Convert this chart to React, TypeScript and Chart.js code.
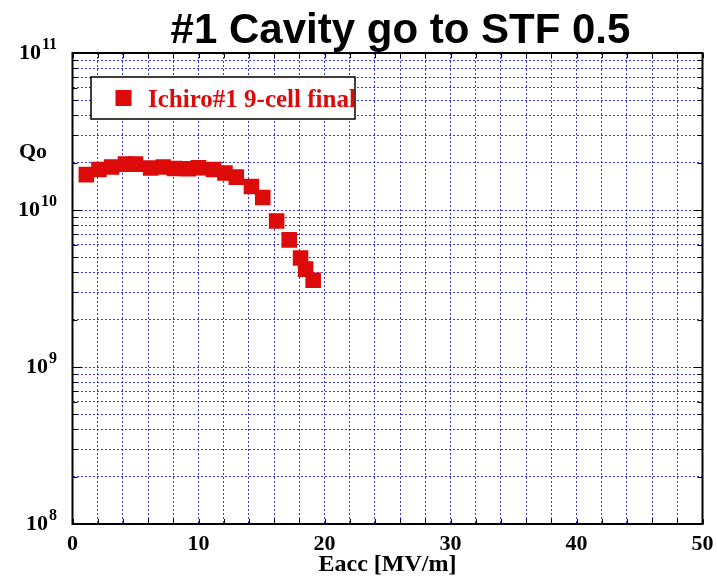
import React, { useEffect, useRef } from 'react';
import { Chart, registerables } from 'chart.js';

Chart.register(...registerables);

// ---- data ----
const seriesLabel = 'Ichiro#1 9-cell final';
const eacc = [1.1, 2.1, 3.1, 4.2, 5.0, 6.2, 7.2, 8.1, 9.2, 10.0, 11.2, 12.1, 13.0, 14.2, 15.1, 16.2, 17.2, 18.1, 18.5, 19.1];
const qo = [1.68e10, 1.81e10, 1.88e10, 1.96e10, 1.96e10, 1.85e10, 1.88e10, 1.84e10, 1.83e10, 1.86e10, 1.81e10, 1.72e10, 1.62e10, 1.41e10, 1.2e10, 8.5e9, 6.45e9, 4.95e9, 4.2e9, 3.57e9];
const xTickLabels = ['0', '10', '20', '30', '40', '50'];
const yDecadeExponents = [8, 9, 10, 11];
const titleText = '#1 Cavity go to STF 0.5';
const xTitle = 'Eacc [MV/m]';
const yTitle = 'Qo';

const RED = '#dd0a0a';
const GRID = 'rgba(20,20,230,0.85)';
const SERIF = '"Liberation Serif", "Times New Roman", serif';
const SANS = '"Liberation Sans", Arial, sans-serif';

function yTickValues(): { value: number; major: boolean }[] {
  const out: { value: number; major: boolean }[] = [];
  for (let i = 0; i < yDecadeExponents.length - 1; i++) {
    const base = Math.pow(10, yDecadeExponents[i]);
    for (let m = 1; m <= 9; m++) out.push({ value: m * base, major: m === 1 });
  }
  out.push({ value: Math.pow(10, yDecadeExponents[yDecadeExponents.length - 1]), major: true });
  return out;
}

const decor = {
  id: 'decor',
  afterDatasetsDraw(chart: any) {
    const { ctx, chartArea: a, scales } = chart;
    const xs = scales.x;
    const ys = scales.y;
    ctx.save();

    // inward tick marks
    ctx.strokeStyle = '#000';
    ctx.lineWidth = 1;
    ctx.beginPath();
    xs.ticks.forEach((t: any) => {
      const px = Math.round(xs.getPixelForValue(t.value)) + 0.5;
      ctx.moveTo(px, a.bottom);
      ctx.lineTo(px, a.bottom - 5);
      ctx.moveTo(px, a.top);
      ctx.lineTo(px, a.top + 5);
    });
    ys.ticks.forEach((t: any) => {
      const py = Math.round(ys.getPixelForValue(t.value)) + 0.5;
      const len = t.major ? 9 : 5;
      ctx.moveTo(a.left, py);
      ctx.lineTo(a.left + len, py);
      ctx.moveTo(a.right, py);
      ctx.lineTo(a.right - len, py);
    });
    ctx.stroke();

    // frame
    ctx.lineWidth = 2;
    ctx.strokeRect(a.left, a.top, a.right - a.left, a.bottom - a.top);

    // legend box
    const lx = a.left + 18.5;
    const ly = a.top + 24;
    ctx.fillStyle = '#fff';
    ctx.fillRect(lx, ly, 264, 42);
    ctx.lineWidth = 1.5;
    ctx.strokeStyle = '#000';
    ctx.strokeRect(lx, ly, 264, 42);
    const ds = chart.data.datasets[0];
    ctx.fillStyle = ds.backgroundColor;
    ctx.fillRect(lx + 24.5, ly + 13, 16, 16);
    ctx.font = `bold 25px ${SERIF}`;
    ctx.textAlign = 'left';
    ctx.textBaseline = 'alphabetic';
    ctx.fillText(ds.label, lx + 57, ly + 29.5);

    // y tick labels with superscripts
    ctx.fillStyle = '#000';
    ctx.textAlign = 'right';
    yDecadeExponents.forEach((e) => {
      const py = ys.getPixelForValue(Math.pow(10, e));
      ctx.font = `bold 16px ${SERIF}`;
      const expStr = String(e);
      const ew = ctx.measureText(expStr).width;
      ctx.fillText(expStr, 57, py - 4);
      ctx.font = `bold 22px ${SERIF}`;
      ctx.fillText('10', 57 - ew - 1, py + 5.5);
    });

    // y title (horizontal)
    ctx.textAlign = 'center';
    ctx.font = `bold 22px ${SERIF}`;
    ctx.fillText(yTitle, 33, 158);

    // chart title
    ctx.font = `bold 42px ${SANS}`;
    ctx.fillText(titleText, 400.5, 43);

    ctx.restore();
  },
};

export default function App() {
  const ref = useRef<HTMLCanvasElement | null>(null);

  useEffect(() => {
    if (!ref.current) return;
    const chart = new Chart(ref.current, {
      type: 'scatter',
      data: {
        datasets: [
          {
            label: seriesLabel,
            data: eacc.map((x, i) => ({ x, y: qo[i] })),
            backgroundColor: RED,
            borderColor: RED,
            borderWidth: 0,
            pointStyle: 'rect',
            pointRadius: 11,
            pointHoverRadius: 11,
            showLine: false,
          },
        ],
      },
      options: {
        responsive: false,
        animation: false,
        devicePixelRatio: 1,
        layout: { padding: { left: 0, right: 14.5, top: 53, bottom: 0 } },
        plugins: {
          legend: { display: false },
          tooltip: { enabled: false },
          title: { display: false },
        },
        scales: {
          x: {
            type: 'linear',
            min: 0,
            max: 50,
            ticks: {
              stepSize: 2,
              autoSkip: false,
              maxRotation: 0,
              padding: 7,
              color: '#000',
              font: { family: SERIF, size: 22, weight: 'bold' },
              callback: (v: any) => (xTickLabels.includes(String(v)) ? String(v) : ''),
            },
            grid: { color: GRID, lineWidth: 1, drawTicks: false },
            border: { display: false, dash: [2, 2] },
            title: {
              display: true,
              text: xTitle,
              color: '#000',
              font: { family: SERIF, size: 24, weight: 'bold' },
              padding: { top: 0, bottom: 2 },
            },
            afterFit: (s: any) => {
              s.height = 57;
              s.paddingLeft = 0;
              s.paddingRight = 0;
            },
          },
          y: {
            type: 'logarithmic',
            min: 1e8,
            max: 1e11,
            ticks: { display: false, autoSkip: false },
            afterBuildTicks: (s: any) => {
              s.ticks = yTickValues();
            },
            grid: { color: GRID, lineWidth: 1, drawTicks: false },
            border: { display: false, dash: [2, 2] },
            afterFit: (s: any) => {
              s.width = 72.5;
              s.paddingTop = 0;
              s.paddingBottom = 0;
            },
          },
        },
      } as any,
      plugins: [decor],
    });
    return () => chart.destroy();
  }, []);

  return (
    <div style={{ position: 'fixed', left: 0, top: 0, width: 717, height: 581, background: '#fff' }}>
      <canvas ref={ref} width={717} height={581} style={{ display: 'block' }} />
    </div>
  );
}
